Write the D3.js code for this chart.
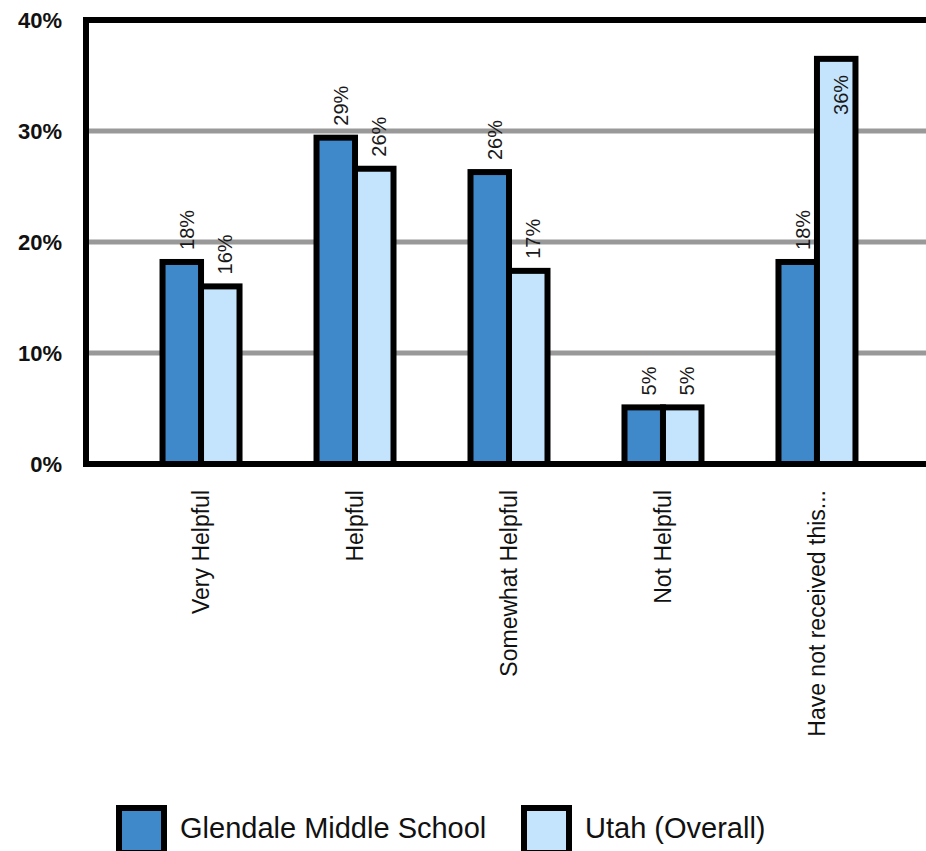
<!DOCTYPE html>
<html>
<head>
<meta charset="utf-8">
<script src="https://cdn.jsdelivr.net/npm/d3@7"></script>
<style>
  html, body { margin: 0; padding: 0; background: #ffffff; }
  svg { display: block; }
</style>
</head>
<body>
<svg id="chart" width="926" height="851"></svg>
<script>
// ---- data ----
const categories = ["Very Helpful", "Helpful", "Somewhat Helpful", "Not Helpful", "Have not received this..."];
const seriesNames = ["Glendale Middle School", "Utah (Overall)"];
const glendaleValues = [18.2, 29.4, 26.3, 5.1, 18.2];
const utahValues = [16.0, 26.6, 17.4, 5.1, 36.5];
const glendaleLabels = ["18%", "29%", "26%", "5%", "18%"];
const utahLabels = ["16%", "26%", "17%", "5%", "36%"];
const yTicks = [0, 10, 20, 30, 40];
const gridTicks = [10, 20, 30];

// ---- layout ----
const svg = d3.select("#chart");
const plot = { left: 86, right: 932, top: 20, bottom: 464 };
const colors = ["#3f88c9", "#c3e4fc"];
const font = "'Liberation Sans', Arial, sans-serif";

const y = d3.scaleLinear().domain([0, 40]).range([plot.bottom, plot.top]);
const x0 = d3.scaleBand().domain(categories).range([plot.left, plot.right])
  .paddingInner(0).paddingOuter(0.247);
const bw = x0.bandwidth();
const x1 = d3.scaleBand().domain(seriesNames).range([bw * 0.25, bw * 0.75]).padding(0);

const rows = categories.map((c, i) => ({
  cat: c,
  items: [
    { s: seriesNames[0], v: glendaleValues[i], label: glendaleLabels[i], color: colors[0] },
    { s: seriesNames[1], v: utahValues[i], label: utahLabels[i], color: colors[1] }
  ]
}));

// gridlines
svg.append("g").selectAll("line").data(gridTicks).join("line")
  .attr("x1", plot.left).attr("x2", plot.right)
  .attr("y1", d => y(d)).attr("y2", d => y(d))
  .attr("stroke", "#999999").attr("stroke-width", 5);

// y axis labels
const yAxis = d3.axisLeft(y).tickValues(yTicks).tickFormat(d => d + "%").tickSize(0).tickPadding(0);
const yg = svg.append("g").attr("transform", "translate(62,0)").call(yAxis);
yg.select(".domain").remove();
yg.selectAll("text")
  .attr("font-family", font).attr("font-size", 22).attr("font-weight", "bold")
  .attr("fill", "#111").attr("dy", "0.36em");

// bars
const groups = svg.append("g").selectAll("g").data(rows).join("g")
  .attr("transform", d => `translate(${x0(d.cat)},0)`);

groups.selectAll("rect").data(d => d.items).join("rect")
  .attr("x", d => x1(d.s))
  .attr("y", d => y(d.v))
  .attr("width", x1.bandwidth())
  .attr("height", d => y(0) - y(d.v))
  .attr("fill", d => d.color)
  .attr("stroke", "#000").attr("stroke-width", 6);

// value labels (rotated)
groups.selectAll("text.val").data(d => d.items).join("text")
  .attr("class", "val")
  .attr("transform", d => {
    const cx = x1(d.s) + x1.bandwidth() / 2 + 5;
    const inside = y(d.v) - 12 - 46 < plot.top;
    const ty = inside ? y(d.v) + 16 : y(d.v) - 12;
    return `translate(${cx},${ty}) rotate(-90)`;
  })
  .attr("text-anchor", d => (y(d.v) - 12 - 46 < plot.top) ? "end" : "start")
  .attr("dy", "0.36em")
  .attr("font-family", font).attr("font-size", 20).attr("fill", "#1a1a1a")
  .text(d => d.label);

// frame (left, top, bottom, right)
svg.append("rect")
  .attr("x", plot.left).attr("y", plot.top)
  .attr("width", plot.right - plot.left).attr("height", plot.bottom - plot.top)
  .attr("fill", "none").attr("stroke", "#000").attr("stroke-width", 6);

// category axis labels
const xAxis = d3.axisBottom(x0).tickSize(0).tickPadding(0);
const xg = svg.append("g").attr("transform", `translate(0,${plot.bottom})`).call(xAxis);
xg.select(".domain").remove();
xg.selectAll("text")
  .attr("font-family", font).attr("font-size", 23).attr("fill", "#111")
  .attr("text-anchor", "end")
  .attr("dy", "0.36em")
  .attr("transform", "translate(0,26) rotate(-90)")
  .attr("y", 0).attr("x", 0);

// legend
const legendItems = [
  { name: seriesNames[0], color: colors[0], x: 119 },
  { name: seriesNames[1], color: colors[1], x: 524 }
];
const lg = svg.append("g").selectAll("g").data(legendItems).join("g")
  .attr("transform", d => `translate(${d.x},808)`);
lg.append("rect").attr("width", 45).attr("height", 45)
  .attr("fill", d => d.color).attr("stroke", "#000").attr("stroke-width", 6);
lg.append("text").attr("x", 61).attr("y", 30)
  .attr("font-family", font).attr("font-size", 29).attr("fill", "#111")
  .text(d => d.name);
</script>
</body>
</html>
